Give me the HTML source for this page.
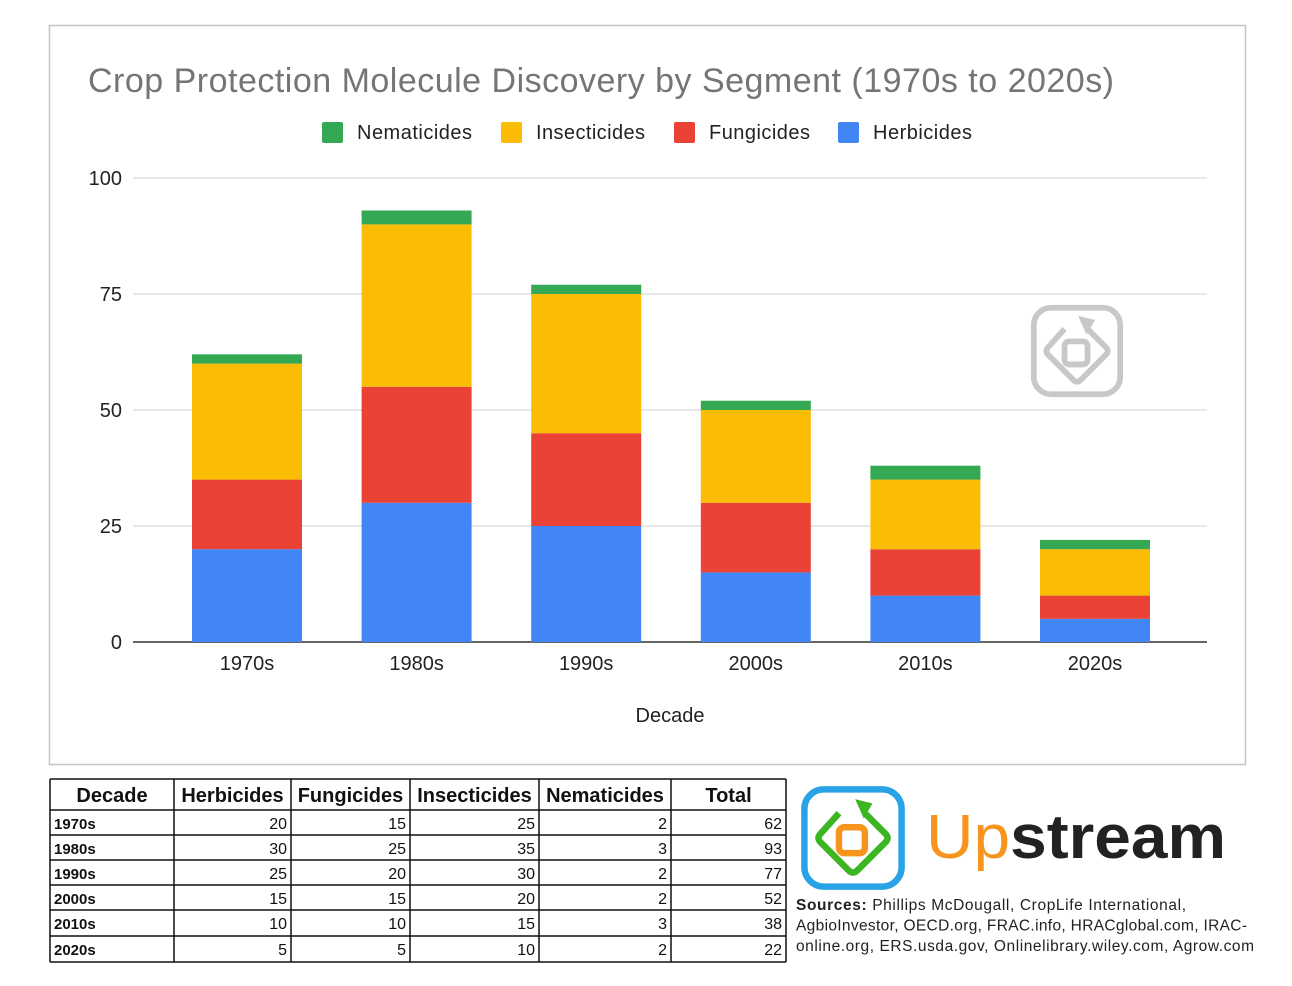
<!DOCTYPE html>
<html><head><meta charset="utf-8"><style>
body{margin:0;background:#fff;width:1292px;height:986px;overflow:hidden}
svg{display:block}
text{font-family:"Liberation Sans",sans-serif}
</style></head><body>
<svg width="1292" height="986" viewBox="0 0 1292 986">
<defs>
<g id="logoMark">
<rect x="5" y="5" width="90" height="90" rx="18" fill="none" stroke-width="6" class="frame"/>
<path d="M37,27 L20,46 Q16,50 20,54 L46,80 Q50,84 54,80 L80,54 Q84,50 80,46 L61,27" fill="none" stroke-width="6" class="dia"/>
<path d="M52,14 L68,18 L60,32 Z" class="arrow"/>
<rect x="37" y="40" width="24" height="24" rx="5" fill="none" stroke-width="6" class="sq"/>
</g>
</defs>
<rect x="49.5" y="25.5" width="1196" height="739" fill="#fff" stroke="#c4c4c4" stroke-width="1.5"/>
<text x="88" y="92" font-size="34" fill="#757575" textLength="1026">Crop Protection Molecule Discovery by Segment (1970s to 2020s)</text>
<g id="legend"></g>
<g id="grid"></g>
<g id="watermark" transform="translate(1029,303) scale(0.96)">
<use href="#logoMark" stroke="#c8c8c8" fill="#c8c8c8"/>
</g>
<g id="bars"></g>
<g id="xlabels"></g>
<text x="670" y="722" font-size="20" fill="#222" text-anchor="middle">Decade</text>
<g id="table"></g>
<g transform="translate(799,784) scale(1.08)">
<rect x="5" y="5" width="90" height="90" rx="18" fill="none" stroke="#29a3e6" stroke-width="6"/>
<path d="M37,27 L20,46 Q16,50 20,54 L46,80 Q50,84 54,80 L80,54 Q84,50 80,46 L61,27" fill="none" stroke="#3cb522" stroke-width="6"/>
<path d="M52,14 L68,18 L60,32 Z" fill="#3cb522"/>
<rect x="37" y="40" width="24" height="24" rx="5" fill="none" stroke="#f7941d" stroke-width="6"/>
</g>
<text x="926" y="858" font-size="62" textLength="300" lengthAdjust="spacingAndGlyphs"><tspan fill="#f7941d">Up</tspan><tspan fill="#222" font-weight="bold">stream</tspan></text>
<g font-size="15.5" fill="#222">
<text x="796" y="910" textLength="390"><tspan font-weight="bold">Sources:</tspan> Phillips McDougall, CropLife International,</text>
<text x="796" y="930.5" textLength="451">AgbioInvestor, OECD.org, FRAC.info, HRACglobal.com, IRAC-</text>
<text x="796" y="951" textLength="458">online.org, ERS.usda.gov, Onlinelibrary.wiley.com, Agrow.com</text>
</g>
</svg>
<script>
const decades=["1970s","1980s","1990s","2000s","2010s","2020s"];
const herbicides=[20,30,25,15,10,5];
const fungicides=[15,25,20,15,10,5];
const insecticides=[25,35,30,20,15,10];
const nematicides=[2,3,2,2,3,2];
const yTicks=[0,25,50,75,100];
const NS="http://www.w3.org/2000/svg";
function el(t,a,p,txt){const e=document.createElementNS(NS,t);for(const k in a)e.setAttribute(k,a[k]);if(txt!==undefined)e.textContent=txt;p.appendChild(e);return e;}
const y=v=>642-v*4.64;
const xc=i=>247+i*169.6;
const bw=110;
const grid=document.getElementById('grid');
yTicks.forEach(t=>{
 const l=el('line',{x1:133,x2:1207,y1:y(t),y2:y(t),stroke:t===0?'#333':'#d0d0d0','stroke-width':t===0?1.5:1},grid);
 
 
 const tx=el('text',{x:122,y:y(t)+7,'font-size':20,fill:'#222','text-anchor':'end'},grid,String(t));
 
 
});
const series=[["herbicides",herbicides,"#4285f4"],["fungicides",fungicides,"#ea4335"],["insecticides",insecticides,"#fbbc04"],["nematicides",nematicides,"#34a853"]];
const bars=document.getElementById('bars');
const xl=document.getElementById('xlabels');
decades.forEach((d,i)=>{
 let base=0;
 series.forEach(s=>{
  const v=s[1][i];
  const r=el('rect',{x:xc(i)-bw/2,y:y(base+v),width:bw,height:v*4.64,fill:s[2]},bars);
  
  
  base+=v;
 });
 const t=el('text',{x:xc(i),y:670,'font-size':20,fill:'#222','text-anchor':'middle'},xl,d);
 
 
});
const legend=document.getElementById('legend');
const legItems=[["Nematicides","#34a853",322,115],["Insecticides","#fbbc04",501,109],["Fungicides","#ea4335",674,101],["Herbicides","#4285f4",838,99]];
legItems.forEach(li=>{
 const g=el('g',{},legend);
 
 
 el('rect',{x:li[2],y:122,width:21,height:21,rx:2,fill:li[1]},g);
 el('text',{x:li[2]+35,y:139,'font-size':20,fill:'#222',textLength:li[3]},g,li[0]);
});
const tbl=document.getElementById('table');
const cols=[50,174,291,410,539,671,786];
const rows=[779,810,835,860,885,910,936,962];
const headers=["Decade","Herbicides","Fungicides","Insecticides","Nematicides","Total"];
rows.forEach(r=>el('line',{x1:50,x2:786,y1:r,y2:r,stroke:'#111','stroke-width':1.5},tbl));
cols.forEach(c=>el('line',{x1:c,x2:c,y1:779,y2:962,stroke:'#111','stroke-width':1.5},tbl));
headers.forEach((h,j)=>{
 const t=el('text',{x:(cols[j]+cols[j+1])/2,y:802,'font-size':20,'font-weight':'bold',fill:'#111','text-anchor':'middle'},tbl,h);
 
 
});
decades.forEach((d,i)=>{
 const vals=[herbicides[i],fungicides[i],insecticides[i],nematicides[i],herbicides[i]+fungicides[i]+insecticides[i]+nematicides[i]];
 const yy=rows[i+1]+19;
 const t=el('text',{x:54,y:yy,'font-size':15,'font-weight':'bold',fill:'#111'},tbl,d);
 
 
 vals.forEach((v,j)=>{
  const c=el('text',{x:cols[j+2]-4,y:yy,'font-size':16,fill:'#111','text-anchor':'end'},tbl,String(v));
  
  
 });
});
</script>
</body></html>
